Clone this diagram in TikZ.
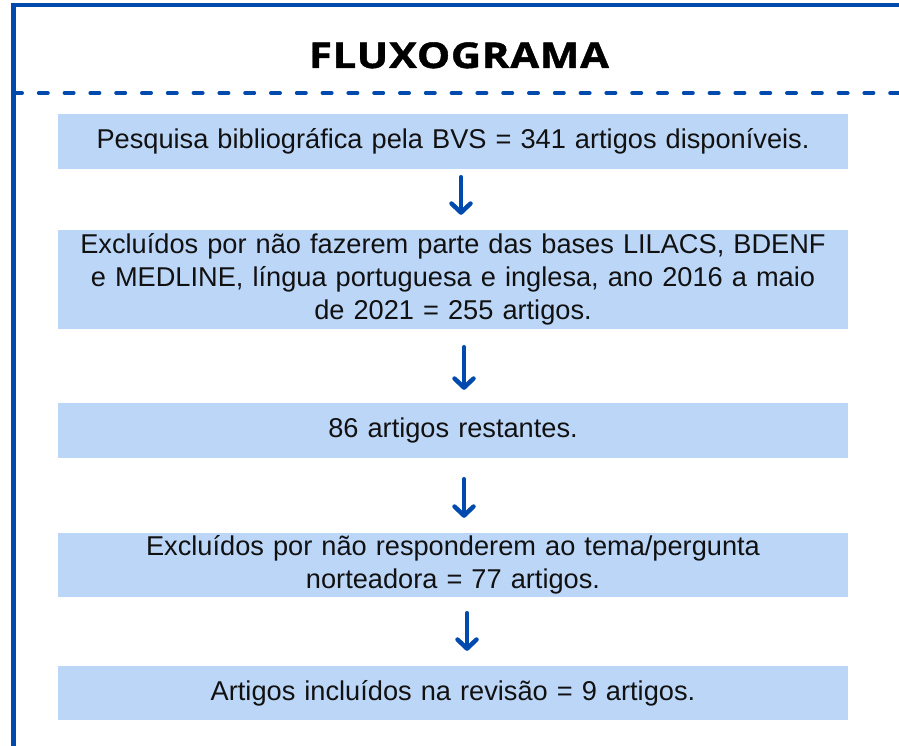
\documentclass[tikz,border=0pt]{standalone}
\usepackage{fontspec}
\setmainfont{Liberation Sans}
\newfontfamily\titlefont[FakeStretch=1.18,LetterSpace=2,FakeBold=1.2]{Open Sans}
\usetikzlibrary{arrows.meta}
\definecolor{frameblue}{HTML}{004AAD}
\definecolor{boxfill}{HTML}{BCD6F8}
\definecolor{txt}{HTML}{111111}
\tikzset{
  stepbox/.style={fill=boxfill, draw=none, inner xsep=5pt, inner ysep=0pt,
    minimum width=790pt, text width=780pt, align=center, text=txt,
    font=\fontsize{27.2pt}{33pt}\selectfont},
  flowarrow/.style={draw=frameblue, line width=4.5pt, line cap=round,
    -{Straight Barb[length=9pt,width=19pt,round]}},
  framestroke/.style={draw=frameblue, line width=4.5pt},
}
\begin{document}
\begin{tikzpicture}[x=1pt,y=-1pt]
\useasboundingbox (0,0) rectangle (899,746);
% frame
\draw[framestroke] (13.5,760) -- (13.5,5) -- (910,5);
\draw[framestroke, line width=4pt, line cap=round, dash pattern=on 9pt off 16.8pt] (13,93) -- (905,93);
% title
\node[anchor=base, font=\titlefont\bfseries\fontsize{35.5pt}{40pt}\selectfont, text=black, inner sep=0pt] (title) at (459,68) {FLUXOGRAMA};
% boxes
\node[stepbox, minimum height=55pt] (b1) at (453,141.5) {Pesquisa bibliográfica pela BVS = 341 artigos disponíveis.};
\node[stepbox, minimum height=99pt] (b2) at (453,279.5) {Excluídos por não fazerem parte das bases LILACS, BDENF\\ e MEDLINE, língua portuguesa e inglesa, ano 2016 a maio\\ de 2021 = 255 artigos.};
\node[stepbox, minimum height=55pt] (b3) at (453,430.5) {86 artigos restantes.};
\node[stepbox, minimum height=64pt] (b4) at (453,565) {Excluídos por não responderem ao tema/pergunta\\ norteadora = 77 artigos.};
\node[stepbox, minimum height=54pt] (b5) at (453,693) {Artigos incluídos na revisão = 9 artigos.};
% arrows
\draw[flowarrow] ([xshift=8pt,yshift=-8pt]b1.south) -- ([xshift=8pt,yshift=15pt]b2.north);
\draw[flowarrow] ([xshift=11pt,yshift=-18pt]b2.south) -- ([xshift=11pt,yshift=13pt]b3.north);
\draw[flowarrow] ([xshift=11pt,yshift=-21pt]b3.south) -- ([xshift=11pt,yshift=15pt]b4.north);
\draw[flowarrow] ([xshift=14pt,yshift=-16pt]b4.south) -- ([xshift=14pt,yshift=15pt]b5.north);
\end{tikzpicture}
\end{document}
